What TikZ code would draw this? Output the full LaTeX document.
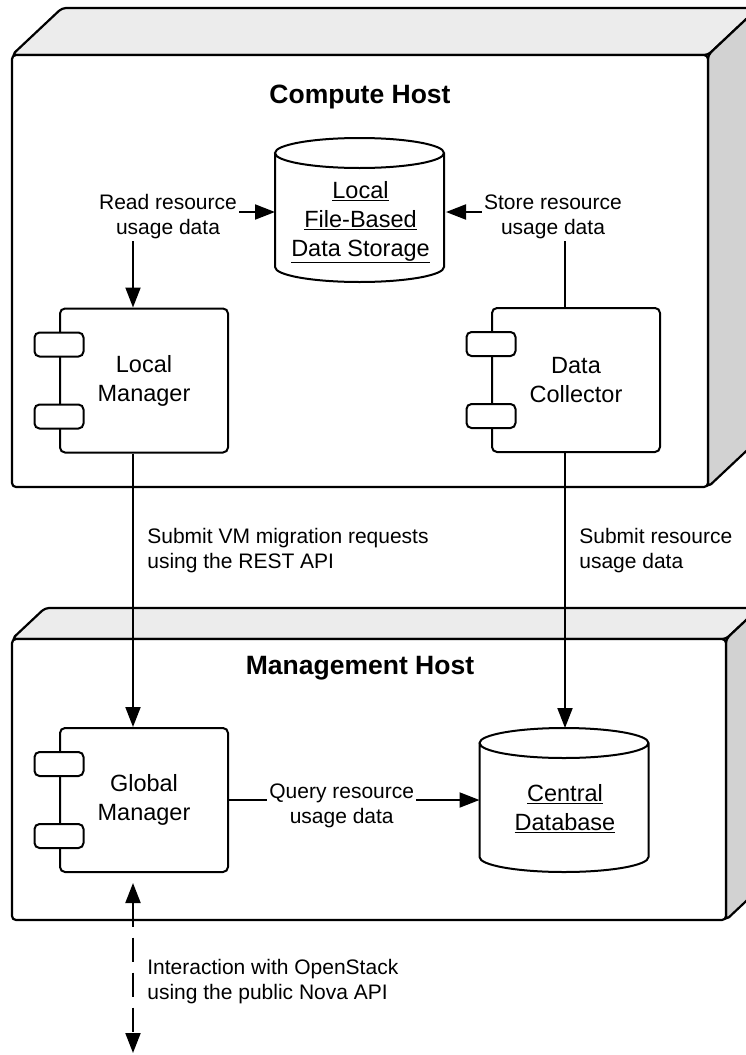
\documentclass[tikz,border=0pt]{standalone}
\usepackage{fontspec}
\setmainfont{Liberation Sans}
\usetikzlibrary{arrows.meta}

\begin{document}
\begin{tikzpicture}[x=1pt, y=1pt, line width=2pt, >={Triangle[length=20pt, width=15pt]},
		every node/.style={font=\fontsize{23.5}{29}\selectfont},
		host/.style={draw, line width=2.2pt, rounded corners=4pt},
		title/.style={font=\fontsize{26.5}{32}\selectfont\bfseries},
		component/.style={draw, rounded corners=5pt, fill=white, minimum width=168pt, minimum height=144pt, align=center},
		port/.style={draw, rounded corners=5pt, fill=white, minimum width=49pt, minimum height=24pt, inner sep=0pt},
		store/.style={minimum width=169pt, align=center},
		lbl/.style={font=\fontsize{21}{25}\selectfont, align=center, fill=white, inner sep=2pt},
		note/.style={font=\fontsize{21}{25}\selectfont, align=left, anchor=west}]
		\useasboundingbox (0,0) rectangle (746,-1055);
		\clip (0,0) rectangle (746,-1055);
		\pgfmathsetmacro{\cdx}{50}
		\pgfmathsetmacro{\cdy}{47}
		\pgfmathsetmacro{\mdx}{33}
		\pgfmathsetmacro{\mdy}{31}
		% compute host
		\draw [host, fill=gray!15] (12,-55) coordinate (c1) -- ++(\cdx,\cdy) -- ++(696,0) -- (708,-55) coordinate (c2) -- cycle;
		\draw [host, fill=gray!35] (c2) -- ++(\cdx,\cdy) -- ++(0,-432) -- (708,-487) coordinate (c3) -- cycle;
		\draw [host, fill=white] (c1) rectangle (c3);
		% management host
		\draw [host, fill=gray!15] (12,-639) coordinate (m1) -- ++(\mdx,\mdy) -- ++(714,0) -- (726,-639) coordinate (m2) -- cycle;
		\draw [host, fill=gray!35] (m2) -- ++(\mdx,\mdy) -- ++(0,-281) -- (726,-920) coordinate (m3) -- cycle;
		\draw [host, fill=white] (m1) rectangle (m3);

		\node[title] (ch) at (360,-97) {Compute Host};
		\node[title] (mh) at (360,-668) {Management Host};

		\node[component] (lm) at (144,-380.5) {Local\\Manager};
		\node[component] (dc) at (576,-380) {Data\\Collector};
		\node[component] (gm) at (144,-800) {Global\\Manager};
		\foreach \c in {lm,dc,gm} {
			\node[port] (\c-p1) at ([yshift=36pt]\c.west) {};
			\node[port] (\c-p2) at ([yshift=-36pt]\c.west) {};
		}

		\node[store, minimum height=166pt] (lfs) at (360.5,-222) {\underline{Local}\\\underline{File-Based}\\\underline{Data Storage}};
		\node[store, minimum height=160pt] (cdb) at (565,-809) {\underline{Central}\\\underline{Database}};
		% cylinder outlines
		\foreach \s in {lfs,cdb} {
			\draw ([yshift=-15pt]\s.north west) -- ++(0,-114)
				arc[start angle=180, end angle=360, x radius=84.5pt, y radius=15pt] -- ++(0,114)
				arc[start angle=0, end angle=180, x radius=84.5pt, y radius=15pt]
				arc[start angle=180, end angle=360, x radius=84.5pt, y radius=15pt];
		}
		\coordinate (api) at (133,-1053);

		\draw [<->] ([xshift=-11pt]lm.north) |- ([yshift=10pt]lfs.west) node[lbl, pos=0.5, xshift=35pt, yshift=-5pt] {Read resource\\usage data};
		\draw [->] ([xshift=-11pt]dc.north) |- ([yshift=10pt]lfs.east) node[lbl, pos=0.5, xshift=-12pt, yshift=-5pt] {Store resource\\usage data};
		\draw [->] ([xshift=-11pt]lm.south) -- ([xshift=-11pt]gm.north) node[note, pos=0.354, xshift=10pt] {Submit VM migration requests\\using the REST API};
		\draw [->] ([xshift=-11pt]dc.south) -- (cdb.north) node[note, pos=0.354, xshift=10pt] {Submit resource\\usage data};
		\draw [->] (gm.east) -- (gm.east -| cdb.west) node[lbl, pos=0.45, yshift=-6pt] {Query resource\\usage data};
		\draw [<->, dash pattern=on 24pt off 11pt, shorten <=10pt] ([xshift=-11pt]gm.south) -- (api) node[note, pos=0.602, xshift=10pt] {Interaction with OpenStack\\using the public Nova API};
	\end{tikzpicture}
\end{document}
